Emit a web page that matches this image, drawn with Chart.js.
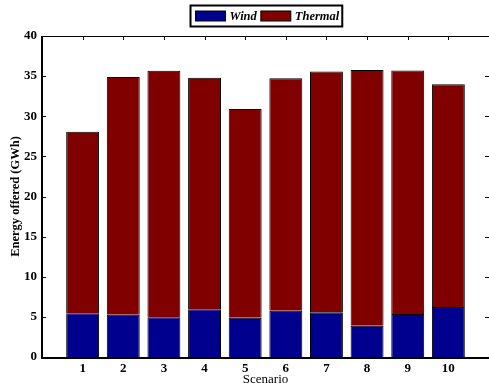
<!DOCTYPE html>
<html>
<head>
<meta charset="utf-8">
<script src="https://cdn.jsdelivr.net/npm/chart.js@4/dist/chart.umd.min.js"></script>
<style>
html,body{margin:0;padding:0;background:#fff;}
canvas{display:block;}
</style>
</head>
<body>
<canvas id="c" width="489" height="387"></canvas>
<script>
const scenarios = [1, 2, 3, 4, 5, 6, 7, 8, 9, 10];
const wind = [5.45, 5.25, 4.96, 5.95, 4.88, 5.75, 5.58, 3.89, 5.37, 6.24];
const thermal = [22.61, 29.63, 30.71, 28.85, 26.02, 29.0, 30.0, 31.86, 30.34, 27.76];
const yTicks = [0, 5, 10, 15, 20, 25, 30, 35, 40];
const seriesNames = ['Wind', 'Thermal'];
const seriesColors = ['#00008F', '#800000'];

const SERIF = '"Liberation Serif", "DejaVu Serif", serif';

const boxPlugin = {
  id: 'boxTicks',
  beforeDatasetsDraw(chart) {
    const {ctx, chartArea: a, scales} = chart;
    ctx.save();
    ctx.strokeStyle = '#000';
    ctx.lineWidth = 1;
    ctx.beginPath();
    const L = 4;
    yTicks.forEach(v => {
      const y = Math.round(scales.y.getPixelForValue(v)) + 0.5;
      ctx.moveTo(a.left, y); ctx.lineTo(a.left + L, y);
      ctx.moveTo(a.right, y); ctx.lineTo(a.right - L, y);
    });
    scenarios.forEach(v => {
      const x = Math.round(scales.x.getPixelForValue(v)) + 0.5;
      ctx.moveTo(x, a.top); ctx.lineTo(x, a.top + L);
      ctx.moveTo(x, a.bottom); ctx.lineTo(x, a.bottom - L);
    });
    ctx.stroke();
    ctx.restore();
  },
  afterDatasetsDraw(chart) {
    const {ctx, chartArea: a} = chart;
    ctx.save();
    ctx.strokeStyle = '#000';
    ctx.lineWidth = 1;
    ctx.strokeRect(Math.round(a.left) + 0.5, Math.round(a.top) + 0.5,
                   Math.round(a.right - a.left), Math.round(a.bottom - a.top));
    ctx.lineWidth = 2;
    ctx.beginPath();
    ctx.moveTo(Math.round(a.left), a.top);
    ctx.lineTo(Math.round(a.left), a.bottom + 1);
    ctx.lineTo(a.right, a.bottom + 1);
    ctx.stroke();
    ctx.restore();
  },
  afterDraw(chart) {
    const {ctx, chartArea: a} = chart;
    ctx.save();
    ctx.font = 'italic bold 12.5px ' + SERIF;
    const sw = 30, sh = 10, padL = 5, padR = 3, gap = 4, igap = 4;
    const widths = seriesNames.map(n => ctx.measureText(n).width);
    let W = padL;
    widths.forEach((w, i) => { W += sw + gap + w + (i < widths.length - 1 ? igap : 0); });
    W += padR;
    const H = 21;
    const cx = (a.left + a.right) / 2;
    const bx = Math.round(cx - W / 2) + 0.5, by = 5.5;
    ctx.fillStyle = '#fff';
    ctx.fillRect(bx, by, W, H);
    ctx.strokeStyle = '#000';
    ctx.lineWidth = 2;
    ctx.strokeRect(bx, by, W, H);
    let x = bx + padL;
    const cy = by + H / 2;
    seriesNames.forEach((n, i) => {
      ctx.fillStyle = seriesColors[i];
      ctx.fillRect(x, cy - sh / 2, sw, sh);
      ctx.lineWidth = 1;
      ctx.strokeStyle = '#000';
      ctx.strokeRect(x, cy - sh / 2, sw, sh);
      x += sw + gap;
      ctx.fillStyle = '#000';
      ctx.textBaseline = 'middle';
      ctx.textAlign = 'left';
      ctx.fillText(n, x, cy + 1);
      x += widths[i] + igap;
    });
    ctx.restore();
  }
};

new Chart(document.getElementById('c'), {
  type: 'bar',
  data: {
    datasets: [
      {
        label: seriesNames[0],
        data: scenarios.map((s, i) => ({x: s, y: wind[i]})),
        backgroundColor: seriesColors[0],
        borderColor: '#000',
        borderWidth: 1
      },
      {
        label: seriesNames[1],
        data: scenarios.map((s, i) => ({x: s, y: thermal[i]})),
        backgroundColor: seriesColors[1],
        borderColor: '#000',
        borderWidth: 1
      }
    ]
  },
  options: {
    responsive: false,
    animation: false,
    devicePixelRatio: 1,
    categoryPercentage: 1,
    barPercentage: 0.81,
    layout: {padding: {top: 36, right: -2, left: 0, bottom: 0}},
    plugins: {legend: {display: false}, tooltip: {enabled: false}},
    scales: {
      x: {
        type: 'linear',
        stacked: true,
        min: 0,
        max: 11,
        offset: false,
        afterBuildTicks: s => { s.ticks = scenarios.map(v => ({value: v})); },
        afterFit: s => { s.height = 30; },
        grid: {display: false, drawTicks: false},
        border: {display: false},
        ticks: {
          color: '#000',
          padding: 4,
          maxRotation: 0,
          autoSkip: false,
          font: {family: SERIF, size: 13, weight: 'bold'}
        },
        title: {
          display: true,
          text: 'Scenario',
          color: '#000',
          padding: {top: -1, bottom: 0},
          font: {family: SERIF, size: 13}
        }
      },
      y: {
        stacked: true,
        min: 0,
        max: 40,
        afterBuildTicks: s => { s.ticks = yTicks.map(v => ({value: v})); },
        afterFit: s => { s.width = 42; },
        grid: {display: false, drawTicks: false},
        border: {display: false},
        ticks: {
          color: '#000',
          padding: 5,
          font: {family: SERIF, size: 13, weight: 'bold'}
        },
        title: {
          display: true,
          text: 'Energy offered (GWh)',
          color: '#000',
          padding: {top: 8, bottom: 0},
          font: {family: SERIF, size: 12.5, weight: 'bold'}
        }
      }
    }
  },
  plugins: [boxPlugin]
});
</script>
</body>
</html>
